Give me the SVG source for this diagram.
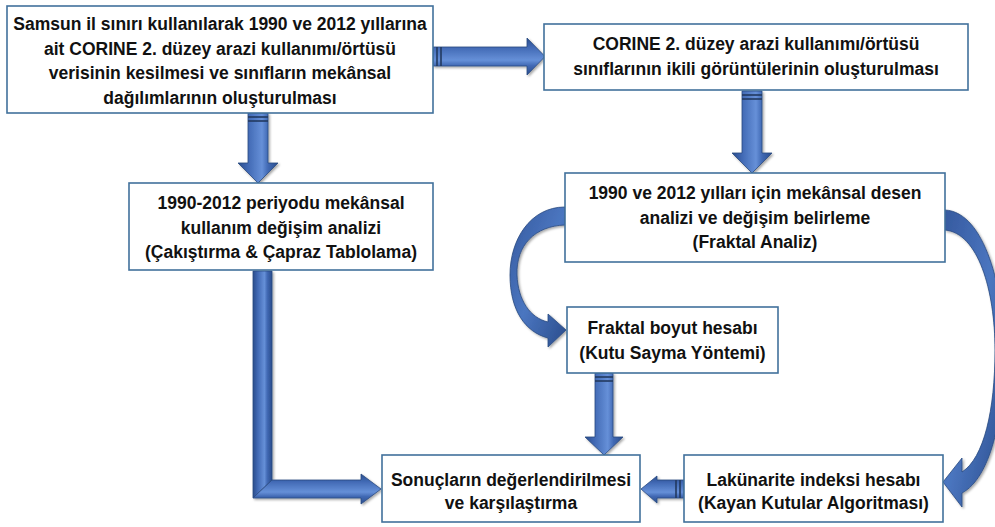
<svg xmlns="http://www.w3.org/2000/svg" width="995" height="527" viewBox="0 0 995 527">
<defs>
<style>
.box{fill:#fff;stroke:#41719c;stroke-width:1.6}
.t{font-family:"Liberation Sans",Arial,sans-serif;font-weight:bold;font-size:17.5px;fill:#111;text-anchor:middle}
.av{fill:url(#gv);stroke:#2a4a80;stroke-width:0.8}
.ah{fill:url(#gh);stroke:#2a4a80;stroke-width:0.8}
.ac{fill:url(#gc);stroke:#2a4a80;stroke-width:0.8}
.bar{stroke:#22395f;stroke-width:1.6}
</style>
<linearGradient id="gv" x1="0" y1="0" x2="1" y2="0">
<stop offset="0" stop-color="#2a4d8c"/><stop offset="0.25" stop-color="#4169b4"/><stop offset="0.6" stop-color="#6690d8"/><stop offset="0.75" stop-color="#4169b4"/><stop offset="1" stop-color="#2a4d8c"/>
</linearGradient>
<linearGradient id="gh" x1="0" y1="0" x2="0" y2="1">
<stop offset="0" stop-color="#2a4d8c"/><stop offset="0.25" stop-color="#4169b4"/><stop offset="0.6" stop-color="#6690d8"/><stop offset="0.75" stop-color="#4169b4"/><stop offset="1" stop-color="#2a4d8c"/>
</linearGradient>
<linearGradient id="gc" x1="0" y1="0" x2="1" y2="1">
<stop offset="0" stop-color="#35599e"/><stop offset="0.5" stop-color="#4b76c0"/><stop offset="1" stop-color="#2a4d8c"/>
</linearGradient>
<filter id="sh" x="-20%" y="-20%" width="140%" height="140%">
<feDropShadow dx="1.5" dy="1.5" stdDeviation="1.2" flood-color="#000" flood-opacity="0.35"/>
</filter>
</defs>
<rect width="995" height="527" fill="#fff"/>

<g id="connectors" filter="url(#sh)">
<path class="ah" d="M433,47 L527,47 L527,38 L545,56.5 L527,75 L527,66 L433,66 Z"/>
<line class="bar" x1="437" y1="47" x2="437" y2="66"/><line class="bar" x1="441" y1="47" x2="441" y2="66"/>
<path class="av" d="M248,113 L268,113 L268,163 L278,163 L258,183 L238,163 L248,163 Z"/>
<line class="bar" x1="248" y1="117" x2="268" y2="117"/><line class="bar" x1="248" y1="121" x2="268" y2="121"/>
<path class="av" d="M742,91 L762,91 L762,153 L772,153 L752,173 L732,153 L742,153 Z"/>
<line class="bar" x1="742" y1="95" x2="762" y2="95"/><line class="bar" x1="742" y1="99" x2="762" y2="99"/>
<path class="av" d="M253,271 L272,271 L272,480 L253,498 Z"/>
<path class="ah" d="M253,498 L272,480 L361,480 L361,474 L381,489 L361,504 L361,498 Z"/>
<path class="ac" d="M565,207 C530,207 510,240 510,275 C510,310 525,332 548,338 L548,347 L566,330 L548,314 L548,322 C530,318 518,300 517,275 C516,245 535,226 565,225 Z"/>
<path class="ac" d="M945,210 C985,212 1004,290 1004,350 C1004,420 990,478 962,493 L962,507 L943,482 L962,458 L962,472 C984,458 995,410 995,350 C995,290 978,233 945,230 Z"/>
<path class="av" d="M595,373 L613,373 L613,437 L623,437 L604,455 L585,437 L595,437 Z"/>
<line class="bar" x1="595" y1="377" x2="613" y2="377"/><line class="bar" x1="595" y1="381" x2="613" y2="381"/>
<path class="ah" d="M684,480 L657,480 L657,476 L641,489 L657,503 L657,498 L684,498 Z"/>
<line class="bar" x1="680" y1="480" x2="680" y2="498"/><line class="bar" x1="676" y1="480" x2="676" y2="498"/>
</g>

<g id="n1">
<rect class="box" x="7" y="6" width="426" height="107"/>
<text class="t" x="220" y="30">Samsun il sınırı kullanılarak 1990 ve 2012 yıllarına</text>
<text class="t" x="220" y="54.5">ait CORINE 2. düzey arazi kullanımı/örtüsü</text>
<text class="t" x="220" y="79">verisinin kesilmesi ve sınıfların mekânsal</text>
<text class="t" x="220" y="103.5">dağılımlarının oluşturulması</text>
</g>
<g id="n2">
<rect class="box" x="544" y="24" width="424" height="66"/>
<text class="t" x="756" y="50">CORINE 2. düzey arazi kullanımı/örtüsü</text>
<text class="t" x="756" y="74.5">sınıflarının ikili görüntülerinin oluşturulması</text>
</g>
<g id="n3">
<rect class="box" x="129" y="183" width="304" height="87"/>
<text class="t" x="281" y="209">1990-2012 periyodu mekânsal</text>
<text class="t" x="281" y="233.5">kullanım değişim analizi</text>
<text class="t" x="281" y="258">(Çakıştırma &amp; Çapraz Tablolama)</text>
</g>
<g id="n4">
<rect class="box" x="565" y="173" width="380" height="89"/>
<text class="t" x="755" y="199">1990 ve 2012 yılları için mekânsal desen</text>
<text class="t" x="755" y="223.5">analizi ve değişim belirleme</text>
<text class="t" x="755" y="248">(Fraktal Analiz)</text>
</g>
<g id="n5">
<rect class="box" x="567" y="307" width="211" height="66"/>
<text class="t" x="672.5" y="334">Fraktal boyut hesabı</text>
<text class="t" x="672.5" y="358.5">(Kutu Sayma Yöntemi)</text>
</g>
<g id="n6">
<rect class="box" x="382" y="455" width="258" height="67"/>
<text class="t" x="511" y="486">Sonuçların değerlendirilmesi</text>
<text class="t" x="511" y="509">ve karşılaştırma</text>
</g>
<g id="n7">
<rect class="box" x="684" y="455" width="259" height="67"/>
<text class="t" x="813.5" y="486">Lakünarite indeksi hesabı</text>
<text class="t" x="813.5" y="509">(Kayan Kutular Algoritması)</text>
</g>
</svg>
